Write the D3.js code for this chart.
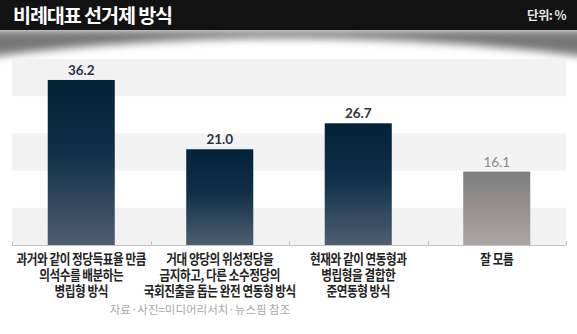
<!DOCTYPE html>
<html>
<head>
<meta charset="utf-8">
<script src="https://cdn.jsdelivr.net/npm/d3@7/dist/d3.min.js"></script>
<style>
  html, body { margin: 0; padding: 0; background: #fff; }
  svg { display: block; }
</style>
</head>
<body>
<svg id="chart" width="577" height="334"></svg>
<script>
// Survey: preferred proportional-representation election method (%)
const categories = ["병립형", "완전연동형", "준연동형", "잘 모름"];
const categoryLabels = [
  ["과거와 같이 정당득표율 만큼", "의석수를 배분하는", "병립형 방식"],
  ["거대 양당의 위성정당을", "금지하고, 다른 소수정당의", "국회진출을 돕는 완전 연동형 방식"],
  ["현재와 같이 연동형과", "병립형을 결합한", "준연동형 방식"],
  ["잘 모름"]
];
const values = [36.2, 21.0, 26.7, 16.1];
const valueLabels = ["36.2", "21.0", "26.7", "16.1"];
const titleText = "비례대표 선거제 방식";
const unitText = "단위: %";
const sourceText = "자료·사진=미디어리서치·뉴스핌 참조";

const W = 577, H = 334;
const svg = d3.select("#chart");
const defs = svg.append("defs");

// gradients for the bars
const gDark = defs.append("linearGradient").attr("id", "barDark")
  .attr("x1", 0).attr("y1", 0).attr("x2", 0).attr("y2", 1);
gDark.append("stop").attr("offset", "0%").attr("stop-color", "#03223a");
gDark.append("stop").attr("offset", "45%").attr("stop-color", "#0f3048");
gDark.append("stop").attr("offset", "100%").attr("stop-color", "#4f5e71");
const gGray = defs.append("linearGradient").attr("id", "barGray")
  .attr("x1", 0).attr("y1", 0).attr("x2", 0).attr("y2", 1);
gGray.append("stop").attr("offset", "0%").attr("stop-color", "#7e7e7e");
gGray.append("stop").attr("offset", "100%").attr("stop-color", "#aba6a3");

const blur = defs.append("filter").attr("id", "soft")
  .attr("x", "-10%").attr("y", "-100%").attr("width", "120%").attr("height", "300%");
blur.append("feGaussianBlur").attr("stdDeviation", 4.5);

// header shadow, thicker toward the edges
svg.append("path")
  .attr("d", `M-20,30 L${W + 20},30 L${W + 20},58 Q${W / 2},18 -20,58 Z`)
  .attr("fill", "#555")
  .attr("opacity", 0.8)
  .attr("filter", "url(#soft)");

// header bar
svg.append("rect").attr("x", 0).attr("y", 0).attr("width", W).attr("height", 30)
  .attr("fill", "#121212");
svg.append("text")
  .attr("x", 13).attr("y", 22.8)
  .attr("font-family", "'Noto Sans CJK KR', sans-serif")
  .attr("font-weight", 700)
  .attr("font-size", 19.6)
  .attr("letter-spacing", -1.1)
  .attr("fill", "#fff")
  .text(titleText);
svg.append("text")
  .attr("x", 566).attr("y", 20)
  .attr("text-anchor", "end")
  .attr("font-family", "'Noto Sans CJK KR', sans-serif")
  .attr("font-weight", 700)
  .attr("font-size", 12.5)
  .attr("letter-spacing", -0.6)
  .attr("fill", "#e6e6e6")
  .text(unitText);

// plot area
const plot = { left: 12, right: 566, top: 59, bottom: 245 };
const yMax = 40.8;
const x = d3.scaleBand().domain(categories)
  .range([plot.left, plot.right])
  .paddingInner(0.516).paddingOuter(0.258);
const y = d3.scaleLinear().domain([0, yMax]).range([plot.bottom, plot.top]);

// alternating background bands
const bandCount = 5;
const bandEdges = d3.range(bandCount + 1).map(i => yMax * i / bandCount);
svg.append("g").selectAll("rect")
  .data(d3.range(bandCount).filter(i => i % 2 === 0))
  .join("rect")
  .attr("x", plot.left)
  .attr("width", plot.right - plot.left)
  .attr("y", i => y(bandEdges[i + 1]))
  .attr("height", i => y(bandEdges[i]) - y(bandEdges[i + 1]))
  .attr("fill", "#f2f2f2");

// bars
const data = categories.map((c, i) => ({ c, v: values[i], label: valueLabels[i], i }));
svg.append("g").selectAll("rect")
  .data(data)
  .join("rect")
  .attr("x", d => x(d.c))
  .attr("width", x.bandwidth())
  .attr("y", d => y(d.v))
  .attr("height", d => y(0) - y(d.v))
  .attr("fill", d => d.i === 3 ? "url(#barGray)" : "url(#barDark)");

// value labels
svg.append("g").selectAll("text")
  .data(data)
  .join("text")
  .attr("x", d => x(d.c) + x.bandwidth() / 2)
  .attr("y", d => y(d.v) - 5)
  .attr("text-anchor", "middle")
  .attr("font-family", "Lato, sans-serif")
  .attr("font-weight", d => d.i === 3 ? 400 : 700)
  .attr("font-size", 13.5)
  .attr("fill", d => d.i === 3 ? "#8a8a8a" : "#2a3543")
  .text(d => d.label);

// baseline with boundary ticks
const step = x.step();
const axis = svg.append("g").attr("stroke", "#c4c4c4").attr("stroke-width", 1);
axis.append("line")
  .attr("x1", plot.left).attr("x2", plot.right)
  .attr("y1", plot.bottom + 0.5).attr("y2", plot.bottom + 0.5);
axis.selectAll("line.tick")
  .data(d3.range(categories.length + 1))
  .join("line")
  .attr("class", "tick")
  .attr("x1", i => Math.round(plot.left + i * step) + 0.5)
  .attr("x2", i => Math.round(plot.left + i * step) + 0.5)
  .attr("y1", plot.bottom - 4).attr("y2", plot.bottom + 0.5);

// category labels (condensed, one text block per category)
const lab = svg.append("g").selectAll("text")
  .data(data)
  .join("text")
  .attr("transform", d => `translate(${x(d.c) + x.bandwidth() / 2},263.5) scale(0.86,1)`)
  .attr("text-anchor", "middle")
  .attr("font-family", "'Noto Sans CJK KR', sans-serif")
  .attr("font-weight", 700)
  .attr("font-size", 13.5)
  .attr("letter-spacing", -0.5)
  .attr("fill", "#222");
lab.selectAll("tspan")
  .data(d => categoryLabels[d.i])
  .join("tspan")
  .attr("x", 0)
  .attr("dy", (t, j) => j === 0 ? 0 : 16.5)
  .text(t => t);

// source note
svg.append("text")
  .attr("x", 200).attr("y", 314)
  .attr("text-anchor", "middle")
  .attr("font-family", "'Noto Sans CJK KR', sans-serif")
  .attr("font-weight", 400)
  .attr("font-size", 11.5)
  .attr("fill", "#a8a8a8")
  .text(sourceText);
</script>
</body>
</html>
